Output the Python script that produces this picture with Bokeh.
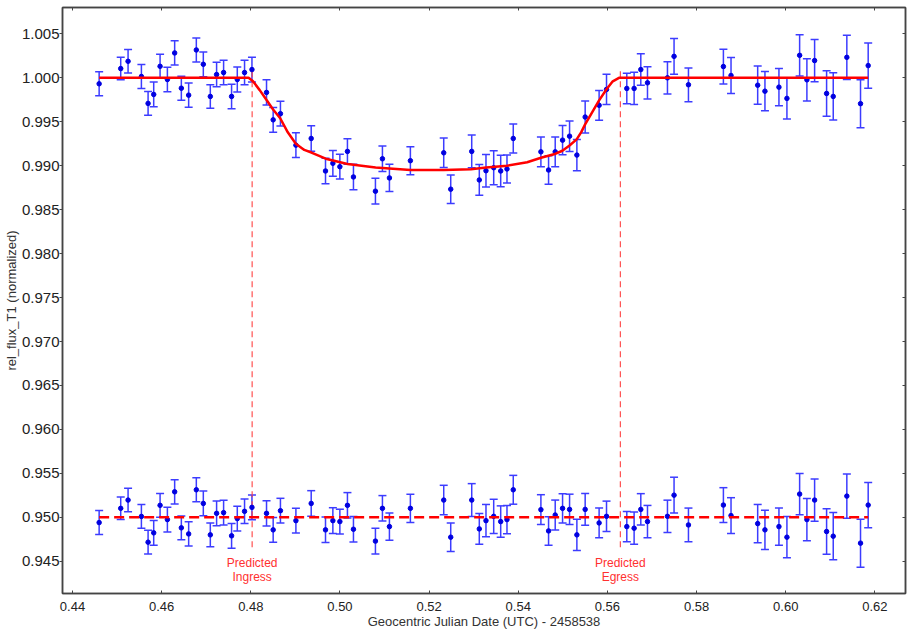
from bokeh.plotting import figure
from bokeh.models import (LinearAxis, Range1d, FixedTicker, NumeralTickFormatter,
                          Whisker, ColumnDataSource, TeeHead)
from bokeh.core.properties import value
from bokeh.embed import file_html
from bokeh.resources import INLINE

# ---------------- data ----------------
time = [0.44598, 0.45082, 0.45247, 0.45546, 0.45696, 0.45822, 0.45965, 0.46129, 0.46292, 0.46442,
        0.46606, 0.46778, 0.46935, 0.47092, 0.47233, 0.47390, 0.47569, 0.47697, 0.47860, 0.48026,
        0.48353, 0.48502, 0.48665, 0.49012, 0.49355, 0.49676, 0.49841, 0.49998, 0.50168, 0.50303,
        0.50796, 0.50953, 0.51110, 0.51580, 0.52328, 0.52485, 0.52956, 0.53126, 0.53276, 0.53449,
        0.53606, 0.53747, 0.53888, 0.54508, 0.54680, 0.54829, 0.54994, 0.55151, 0.55315, 0.55501,
        0.55814, 0.55980, 0.56435, 0.56599, 0.56749, 0.56899, 0.57347, 0.57495, 0.57818, 0.58602,
        0.58773, 0.59371, 0.59534, 0.59848, 0.60027, 0.60312, 0.60475, 0.60648, 0.60917, 0.61066,
        0.61371, 0.61678, 0.61850]

flux = [0.99932, 1.00105, 1.00188, 1.00015, 0.99709, 0.99811, 1.00131, 0.99981, 1.00283, 0.99882,
        0.99803, 1.00317, 1.00154, 0.99788, 1.00037, 1.00060, 0.99788, 0.99981, 1.00060, 1.00094,
        0.99834, 0.99522, 0.99592, 0.99234, 0.99310, 0.98940, 0.99027, 0.98989, 0.99163, 0.98872,
        0.98710, 0.99079, 0.98861, 0.99057, 0.99147, 0.98733, 0.99163, 0.98838, 0.98943, 0.98977,
        0.98940, 0.98963, 0.99310, 0.99158, 0.98951, 0.99158, 0.99291, 0.99336, 0.99121, 0.99554,
        0.99687, 0.99868, 0.99879, 0.99879, 1.00094, 0.99943, 1.00000, 1.00244, 0.99921, 1.00128,
        1.00026, 0.99916, 0.99848, 0.99894, 0.99766, 1.00256, 0.99977, 1.00196, 0.99822, 0.99788,
        1.00233, 0.99706, 1.00139]

flux_err = [0.00136, 0.00128, 0.00134, 0.00136, 0.00136, 0.00141, 0.00136, 0.00140, 0.00138, 0.00136,
            0.00138, 0.00136, 0.00141, 0.00134, 0.00140, 0.00140, 0.00140, 0.00141, 0.00140, 0.00141,
            0.00143, 0.00141, 0.00141, 0.00141, 0.00145, 0.00145, 0.00147, 0.00141, 0.00145, 0.00145,
            0.00147, 0.00145, 0.00155, 0.00160, 0.00168, 0.00162, 0.00187, 0.00175, 0.00184, 0.00194,
            0.00179, 0.00160, 0.00164, 0.00170, 0.00162, 0.00170, 0.00166, 0.00173, 0.00177, 0.00181,
            0.00170, 0.00173, 0.00173, 0.00183, 0.00179, 0.00184, 0.00184, 0.00204, 0.00192, 0.00198,
            0.00204, 0.00218, 0.00223, 0.00213, 0.00235, 0.00235, 0.00240, 0.00240, 0.00258, 0.00269,
            0.00252, 0.00273, 0.00258]

residual = [-0.00060, 0.00102, 0.00196, 0.00010, -0.00283, -0.00177, 0.00136, -0.00026, 0.00290, -0.00120,
            -0.00189, 0.00313, 0.00158, -0.00200, 0.00045, 0.00053, -0.00211, -0.00015, 0.00068, 0.00113,
            0.00045, -0.00143, 0.00075, -0.00038, 0.00158, -0.00143, -0.00038, -0.00049, 0.00136, -0.00136,
            -0.00271, 0.00102, -0.00106, 0.00102, 0.00196, -0.00226, 0.00196, -0.00132, -0.00038, 0.00011,
            -0.00049, -0.00026, 0.00313, 0.00087, -0.00155, 0.00026, 0.00102, 0.00090, -0.00200, 0.00090,
            -0.00064, 0.00011, -0.00106, -0.00124, 0.00090, -0.00049, 0.00011, 0.00252, -0.00087, 0.00139,
            0.00019, -0.00072, -0.00143, -0.00106, -0.00226, 0.00264, -0.00026, 0.00196, -0.00162, -0.00215,
            0.00241, -0.00294, 0.00139]

model_time = [0.44598, 0.4795, 0.4805, 0.4820, 0.4835, 0.4850, 0.4866, 0.4883, 0.4901, 0.4920,
              0.4936, 0.4968, 0.5017, 0.5080, 0.5158, 0.5233, 0.5294, 0.5328, 0.5375, 0.5420,
              0.5451, 0.5480, 0.5499, 0.5515, 0.5531, 0.5541, 0.5550, 0.5566, 0.5581, 0.5598,
              0.5612, 0.5626, 0.61850]
model_flux = [1.0000, 1.0000, 0.9996, 0.9986, 0.9975, 0.9964, 0.9954, 0.9938, 0.9925, 0.9918,
              0.9915, 0.9908, 0.9902, 0.9898, 0.9895, 0.9895, 0.9896, 0.9898, 0.9900, 0.9904,
              0.9909, 0.9913, 0.9917, 0.9923, 0.9930, 0.9938, 0.9947, 0.9961, 0.9974, 0.9987,
              0.9996, 1.0000, 1.0000]

residual_offset = 0.95
predicted_times = [0.4803, 0.5629]
predicted_word = ["Predicted", "Predicted"]
predicted_kind = ["Ingress", "Egress"]

x_ticks = [0.44, 0.46, 0.48, 0.50, 0.52, 0.54, 0.56, 0.58, 0.60, 0.62]
y_ticks = [0.945, 0.950, 0.955, 0.960, 0.965, 0.970, 0.975, 0.980, 0.985, 0.990, 0.995, 1.000, 1.005]

x_label = "Geocentric Julian Date (UTC) - 2458538"
y_label = "rel_flux_T1 (normalized)"

# ---------------- figure ----------------
FONT = "Liberation Sans"
p = figure(width=909, height=631, output_backend="svg", toolbar_location=None,
           x_range=Range1d(0.43776, 0.62687), y_range=Range1d(0.94133, 1.0080),
           min_border_left=61, min_border_right=4, min_border_top=7, min_border_bottom=38,
           background_fill_color="white", border_fill_color="white",
           x_axis_type=None, y_axis_type=None)
p.outline_line_color = "#444444"
p.outline_line_width = 1.5

xt = FixedTicker(ticks=x_ticks)
yt = FixedTicker(ticks=y_ticks)

bottom = LinearAxis(ticker=xt, formatter=NumeralTickFormatter(format="0.00"),
                    axis_label=x_label)
bottom.major_tick_in = 3
bottom.major_tick_out = 0
bottom.major_label_standoff = 8
bottom.axis_label_standoff = 0
bottom.major_label_text_font = FONT
bottom.major_label_text_font_size = "13px"
bottom.major_label_text_color = "#222222"
bottom.axis_label_text_font = FONT
bottom.axis_label_text_font_size = "13px"
bottom.axis_label_text_font_style = "normal"
bottom.axis_label_text_color = "#333333"
p.add_layout(bottom, "below")

left = LinearAxis(ticker=yt, formatter=NumeralTickFormatter(format="0.000"),
                  axis_label=y_label)
left.major_tick_in = 0
left.major_tick_out = 3
left.major_label_standoff = 0
left.axis_label_standoff = 0
left.major_label_text_font = FONT
left.major_label_text_font_size = "15px"
left.major_label_text_color = "#222222"
left.axis_label_text_font = FONT
left.axis_label_text_font_size = "13px"
left.axis_label_text_font_style = "normal"
left.axis_label_text_color = "#333333"
p.add_layout(left, "left")

top = LinearAxis(ticker=xt)
right = LinearAxis(ticker=yt)
for ax in (top, right):
    ax.major_tick_in = 3
    ax.major_tick_out = 0
    ax.major_label_text_font_size = "0px"
    ax.major_label_standoff = 0
    ax.major_label_text_alpha = 0
p.add_layout(top, "above")
p.add_layout(right, "right")

for ax in (bottom, left, top, right):
    ax.minor_tick_line_color = None
    ax.axis_line_color = "#444444"
    ax.axis_line_width = 1.5
    ax.major_tick_line_color = "#444444"
    ax.major_tick_line_width = 1

p.ygrid.ticker = yt
p.ygrid.grid_line_color = "#d0d0d0"
p.ygrid.grid_line_width = 2
p.xgrid.visible = False

# predicted ingress / egress markers
p.segment(x0=predicted_times, x1=predicted_times,
          y0=[0.9466] * len(predicted_times), y1=[1.0008] * len(predicted_times),
          line_color="#ff4040", line_width=1.1, line_dash="6 4")
p.text(x=predicted_times, y=[0.9448] * 2, text=predicted_word,
       text_font=value(FONT), text_font_size="12px", text_color="#ff3030",
       text_align="center", text_baseline="middle")
p.text(x=predicted_times, y=[0.9432] * 2, text=predicted_kind,
       text_font=value(FONT), text_font_size="12px", text_color="#ff3030",
       text_align="center", text_baseline="middle")

# data
src = ColumnDataSource(dict(
    t=time, f=flux,
    fu=[f + e for f, e in zip(flux, flux_err)],
    fl=[f - e for f, e in zip(flux, flux_err)],
    r=[residual_offset + r for r in residual],
    ru=[residual_offset + r + e for r, e in zip(residual, flux_err)],
    rl=[residual_offset + r - e for r, e in zip(residual, flux_err)],
))

BAR = "#3c3cff"
for up, lo in (("fu", "fl"), ("ru", "rl")):
    w = Whisker(source=src, base="t", upper=up, lower=lo, dimension="height",
                line_color=BAR, line_width=1.5,
                upper_head=TeeHead(size=8, line_color=BAR, line_width=1.5),
                lower_head=TeeHead(size=8, line_color=BAR, line_width=1.5))
    p.add_layout(w)

p.scatter("t", "f", source=src, size=4.5, color="#0000e0")
p.scatter("t", "r", source=src, size=4.5, color="#0000e0")

# model and residual baseline
p.line(model_time, model_flux, line_color="#ff0000", line_width=2.5)
p.line([time[0], time[-1]], [residual_offset, residual_offset],
       line_color="#ff0000", line_width=2.5, line_dash="10 5")

open("out.html", "w").write(file_html(p, INLINE))
